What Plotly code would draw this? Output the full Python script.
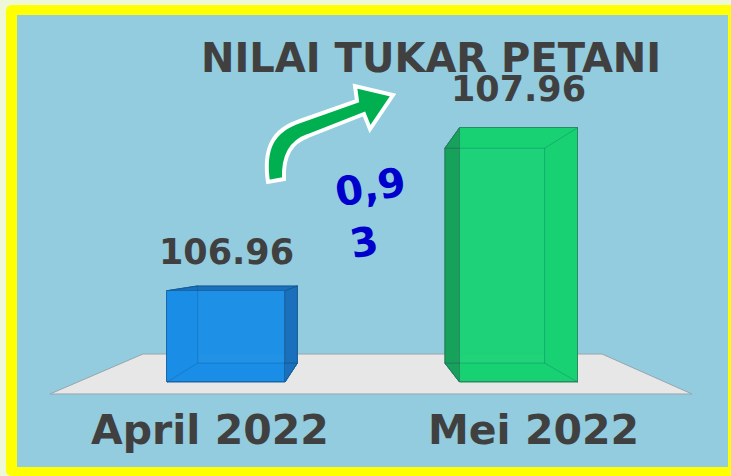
import plotly.graph_objects as go

# ---------------- data ----------------
categories = ["April 2022", "Mei 2022"]
values = [106.96, 107.96]
value_labels = ["106.96", "107.96"]
change_lines = ["0,9", "3"]
title_text = "NILAI TUKAR PETANI"

# ---------------- layout constants ----------------
W, H = 731, 476
BASE = 106.4
X_RANGE = [-0.7727, 1.7265]
Y_RANGE = [105.8233, 108.7436]
BAR_W = 0.4034
VP = (0.4752, 107.1485)   # vanishing point (data units) for the 3D boxes
DEPTH = 0.155

front_colors = ["#1A8FE8", "#19D374"]
side_colors = ["#1A70BC", "#17A25C"]
edge_colors = ["#1966A6", "#2A8A60"]

TEXT_DARK = "#404040"
FONT = "DejaVu Sans"


def pp(x, y):
    """pixel -> paper coords (figure has zero margins)"""
    return x / W, 1 - y / H


def P(x, y):
    a, b = pp(x, y)
    return f"{a:.5f},{b:.5f}"


def path_px(points):
    s = ""
    for i, (x, y) in enumerate(points):
        s += ("M" if i == 0 else "L") + P(x, y) + " "
    return s + "Z"


def back(p):
    return (p[0] + (VP[0] - p[0]) * DEPTH, p[1] + (VP[1] - p[1]) * DEPTH)


def path_data(points):
    s = ""
    for i, (x, y) in enumerate(points):
        s += ("M" if i == 0 else "L") + f"{x:.5f},{y:.5f} "
    return s + "Z"


shapes = []

# yellow frame with rounded left corners
r = 6
fx0, fy0, fx1, fy1 = 6, 5, 745, 476
frame = (f"M{P(fx0 + r, fy0)} L{P(fx1, fy0)} L{P(fx1, fy1)} L{P(fx0 + r, fy1)} "
         f"Q{P(fx0, fy1)} {P(fx0, fy1 - r)} L{P(fx0, fy0 + r)} Q{P(fx0, fy0)} {P(fx0 + r, fy0)} Z")
shapes.append(dict(type="path", xref="paper", yref="paper", path=frame,
                   fillcolor="#FFFF00", line=dict(width=0), layer="below"))
# light blue panel
shapes.append(dict(type="path", xref="paper", yref="paper",
                   path=path_px([(17, 15), (728, 15), (728, 467), (17, 467)]),
                   fillcolor="#92CCDE", line=dict(width=0), layer="below"))
# floor
shapes.append(dict(type="path", xref="paper", yref="paper",
                   path=path_px([(50, 394), (143, 354), (602, 354), (692, 394)]),
                   fillcolor="#E7E7E7", line=dict(color="#98A6AC", width=1), layer="below"))

# side faces of the 3D boxes (computed from the data values)
edge_x, edge_y = [], []
for i, v in enumerate(values):
    L, R = i - BAR_W / 2, i + BAR_W / 2
    fLB, fLT, fRT, fRB = (L, BASE), (L, v), (R, v), (R, BASE)
    bLB, bLT, bRT, bRB = back(fLB), back(fLT), back(fRT), back(fRB)
    faces = [
        [fLB, fLT, bLT, bLB],   # left
        [fRB, fRT, bRT, bRB],   # right
        [fLT, fRT, bRT, bLT],   # top
        [fLB, fRB, bRB, bLB],   # bottom
    ]
    for f in faces:
        shapes.append(dict(type="path", xref="x", yref="y", path=path_data(f),
                           fillcolor=side_colors[i],
                           line=dict(color=edge_colors[i], width=1), layer="below"))
    for seg in ([bLB, bLT, bRT, bRB, bLB], [fLB, bLB], [fLT, bLT], [fRT, bRT], [fRB, bRB]):
        edge_x += [p[0] for p in seg] + [None]
        edge_y += [p[1] for p in seg] + [None]

# green curved arrow (decoration)
arrow_path = (
    f"M{P(268,182)} C{P(263,148)} {P(273,130)} {P(300,121)} "
    f"L{P(357,101)} L{P(355,86)} L{P(393,95)} L{P(370,129)} L{P(364,114)} L{P(308,136)} "
    f"C{P(291,142)} {P(283,155)} {P(284,179)} Z"
)
shapes.append(dict(type="path", xref="paper", yref="paper", path=arrow_path,
                   fillcolor="#00B050", line=dict(color="white", width=4), layer="above"))

fig = go.Figure()
fig.add_trace(go.Bar(
    x=[0, 1], y=[v - BASE for v in values], base=BASE, width=BAR_W,
    marker=dict(color=front_colors, line=dict(color=edge_colors, width=1)),
    opacity=0.96, hoverinfo="skip", showlegend=False,
))
fig.add_trace(go.Scatter(
    x=edge_x, y=edge_y, mode="lines",
    line=dict(color="rgba(10,60,90,0.22)", width=1),
    hoverinfo="skip", showlegend=False,
))

annotations = []
for i, (v, lab) in enumerate(zip(values, value_labels)):
    annotations.append(dict(x=i, y=v, xref="x", yref="y", text=lab, showarrow=False,
                            yanchor="bottom", yshift=17,
                            font=dict(family=FONT, size=35, color=TEXT_DARK, weight="bold")))
cat_shift = [-16, 15]
for i, c in enumerate(categories):
    annotations.append(dict(x=i, y=BASE, xref="x", yref="y", text=c, showarrow=False,
                            yanchor="top", yshift=-22, xshift=cat_shift[i],
                            font=dict(family=FONT, size=41, color=TEXT_DARK, weight="bold")))
tx, ty = pp(430.5, 33)
annotations.append(dict(x=tx, y=ty, xref="paper", yref="paper", text=title_text,
                        showarrow=False, xanchor="center", yanchor="top",
                        font=dict(family=FONT, size=40, color=TEXT_DARK, weight="bold")))
# change label "0,9 / 3", slightly rotated
for txt, (lx, ly) in zip(change_lines, [(370, 187), (364, 242)]):
    cx, cy = pp(lx, ly)
    annotations.append(dict(x=cx, y=cy, xref="paper", yref="paper", text=txt,
                            showarrow=False, xanchor="center", yanchor="middle", textangle=-10,
                            font=dict(family=FONT, size=40, color="#0000CC", weight="bold")))

fig.update_layout(
    width=W, height=H, autosize=False,
    margin=dict(l=0, r=0, t=0, b=0, pad=0),
    paper_bgcolor="#EEF7D8", plot_bgcolor="rgba(0,0,0,0)",
    xaxis=dict(range=X_RANGE, domain=[0, 1], visible=False, fixedrange=True),
    yaxis=dict(range=Y_RANGE, domain=[0, 1], visible=False, fixedrange=True),
    shapes=shapes, annotations=annotations, showlegend=False,
    bargap=0,
)

fig.write_html("out.html", config={"displayModeBar": False},
               post_script="document.body.style.margin='0';document.body.style.overflow='hidden';")
